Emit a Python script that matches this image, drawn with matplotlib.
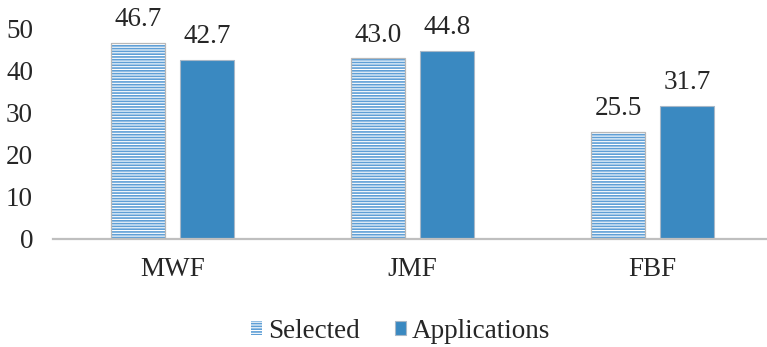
import matplotlib
matplotlib.use("Agg")
import matplotlib.pyplot as plt
import numpy as np

categories = ["MWF", "JMF", "FBF"]
selected = [46.7, 43.0, 25.5]
applications = [42.7, 44.8, 31.7]
yticks = [0, 10, 20, 30, 40, 50]

plt.rcParams['font.family'] = 'Liberation Serif'
plt.rcParams['hatch.linewidth'] = 1.2

fs = 19.5
fig = plt.figure(figsize=(7.67, 3.47), dpi=100)
ax = fig.add_axes([52.5 / 767, 108 / 347, 1 - 52.5 / 767, 210 / 347])

x = np.arange(len(categories))
w = 0.225
off = 0.144

# hatched bars: white face with blue horizontal lines, then a grey outline on top
hb = ax.bar(x - off, selected, w, facecolor='white', edgecolor='#5f9fd6',
            hatch='-' * 6, linewidth=0, label='Selected', zorder=2)
ax.bar(x - off, selected, w, facecolor='none', edgecolor='#b8b8b8',
       linewidth=0.9, zorder=3)
ab = ax.bar(x + off, applications, w, color='#3a89c1', edgecolor='#a8b8c8',
            linewidth=0.8, label='Applications', zorder=2)

for xs, vals in [(x - off, selected), (x + off, applications)]:
    for xi, v in zip(xs, vals):
        ax.annotate(f"{v:.1f}", (xi, v), xytext=(0, 7.5), textcoords='offset points',
                    ha='center', va='bottom', fontsize=fs, color='#262626')

ax.set_xlim(-0.5, -0.5 + (767 - 52.5) / 240)
ax.set_ylim(0, 50)
ax.set_xticks(x)
ax.set_xticklabels(categories)
ax.set_yticks(yticks)
ax.tick_params(axis='both', length=0, labelsize=fs, colors='#262626')
ax.tick_params(axis='y', pad=14)
ax.tick_params(axis='x', pad=13)

for s in ['top', 'right', 'left']:
    ax.spines[s].set_visible(False)
ax.spines['bottom'].set_color('#bfbfbf')
ax.spines['bottom'].set_linewidth(1.6)

leg = fig.legend(handles=[hb, ab], labels=['Selected', 'Applications'],
                 loc='center', bbox_to_anchor=(0.522, 0.046), ncol=2, frameon=False,
                 fontsize=fs, handlelength=0.42, handleheight=0.42,
                 handletextpad=0.2, columnspacing=1.3)
plt.setp(leg.get_texts(), color='#262626')

fig.savefig('out.png', dpi=100)
